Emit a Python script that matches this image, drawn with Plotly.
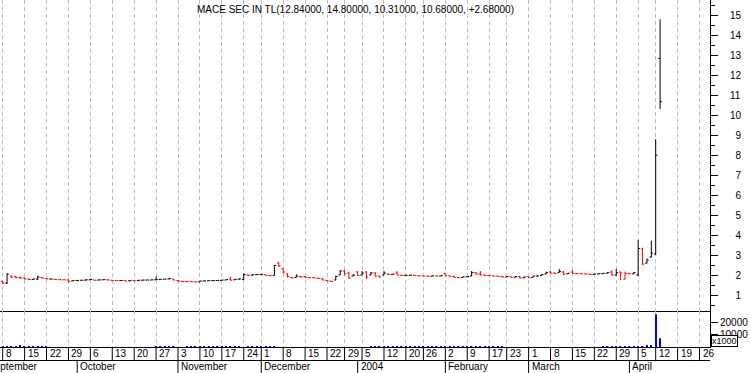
import pandas as pd
import plotly.graph_objects as go

# ---------------- data ----------------
TITLE = "MACE SEC IN TL(12.84000, 14.80000, 10.31000, 10.68000, +2.68000)"
HOLIDAYS = ["2003-09-01", "2003-11-27", "2003-12-25", "2004-01-01",
            "2004-01-19", "2004-02-16", "2004-04-09"]
CAL_START = "2003-09-01"
FIRST_DAY = "2003-09-08"
CAL_END = "2004-04-30"

opens = [1.68, 1.60, 1.95, 1.92, 1.88, 1.85, 1.80, 1.78, 1.80, 1.88,
         1.83, 1.80, 1.79, 1.77, 1.76, 1.75, 1.70, 1.73, 1.74, 1.74,
         1.76, 1.75, 1.75, 1.76, 1.76, 1.74, 1.73, 1.72, 1.72, 1.71,
         1.72, 1.72, 1.74, 1.75, 1.75, 1.76, 1.78, 1.79, 1.80, 1.80,
         1.72, 1.69, 1.68, 1.67, 1.66, 1.66, 1.70, 1.71, 1.72, 1.73,
         1.73, 1.75, 1.80, 1.76, 1.79, 1.78, 2.00, 1.99, 2.02, 2.03,
         2.02, 1.98, 1.98, 2.60, 2.32, 2.06, 1.88, 1.88, 1.93, 1.92,
         1.88, 1.87, 1.85, 1.82, 1.74, 1.70, 1.75, 2.00, 2.20, 2.10,
         1.95, 2.15, 2.00, 2.15, 2.00, 2.10, 1.95, 2.00, 2.05, 2.03,
         2.10, 2.00, 1.98, 1.99, 1.99, 1.97, 1.96, 1.95, 1.94, 1.96,
         1.95, 2.08, 1.96, 1.93, 1.88, 1.88, 1.91, 1.95, 2.12, 2.05,
         2.00, 1.98, 1.96, 1.95, 1.93, 1.90, 1.92, 1.89, 1.93, 1.86,
         1.92, 1.88, 1.95, 1.97, 2.05, 2.15, 2.10, 2.12, 2.15, 2.06,
         2.15, 2.08, 2.07, 2.06, 2.05, 2.03, 2.05, 2.07, 2.09, 2.15,
         2.00, 2.15, 1.80, 2.08, 2.06, 2.00, 3.30, 2.60, 2.90, 3.05,
         12.84]
highs = [1.70, 2.10, 1.97, 1.95, 1.92, 1.88, 1.82, 1.82, 1.97, 1.88,
         1.85, 1.81, 1.80, 1.78, 1.77, 1.80, 1.73, 1.74, 1.75, 1.80,
         1.82, 1.76, 1.77, 1.78, 1.77, 1.75, 1.74, 1.74, 1.73, 1.73,
         1.73, 1.75, 1.76, 1.76, 1.77, 1.92, 1.80, 1.80, 1.85, 1.80,
         1.73, 1.70, 1.69, 1.68, 1.67, 1.70, 1.72, 1.72, 1.73, 1.74,
         1.76, 1.78, 1.92, 1.80, 1.82, 2.08, 2.02, 2.04, 2.04, 2.05,
         2.02, 1.99, 2.50, 2.65, 2.33, 2.08, 1.90, 2.03, 1.95, 1.95,
         1.90, 1.88, 1.86, 1.83, 1.75, 1.70, 1.97, 2.25, 2.25, 2.17,
         2.05, 2.20, 2.20, 2.20, 2.15, 2.15, 1.97, 2.20, 2.08, 2.06,
         2.20, 2.02, 2.00, 2.00, 2.00, 1.98, 1.97, 1.96, 1.97, 1.97,
         1.98, 2.10, 1.97, 1.97, 1.90, 1.92, 1.93, 2.20, 2.15, 2.20,
         2.02, 1.99, 1.97, 1.96, 1.94, 1.93, 1.92, 1.95, 1.95, 1.92,
         1.93, 1.96, 1.97, 2.05, 2.17, 2.20, 2.12, 2.30, 2.20, 2.10,
         2.25, 2.10, 2.08, 2.07, 2.06, 2.06, 2.08, 2.10, 2.14, 2.25,
         2.30, 2.17, 2.17, 2.10, 2.15, 3.75, 3.37, 2.83, 3.72, 8.80,
         14.80]
lows = [1.55, 1.55, 1.85, 1.83, 1.80, 1.78, 1.75, 1.78, 1.75, 1.82,
        1.80, 1.79, 1.77, 1.76, 1.75, 1.62, 1.70, 1.72, 1.73, 1.74,
        1.75, 1.72, 1.74, 1.76, 1.74, 1.72, 1.71, 1.72, 1.69, 1.70,
        1.70, 1.72, 1.74, 1.75, 1.75, 1.76, 1.78, 1.79, 1.80, 1.74,
        1.68, 1.67, 1.66, 1.66, 1.65, 1.66, 1.70, 1.71, 1.72, 1.72,
        1.73, 1.75, 1.72, 1.76, 1.78, 1.75, 1.97, 1.99, 2.01, 2.02,
        1.97, 1.96, 1.98, 2.40, 2.08, 1.87, 1.84, 1.88, 1.88, 1.86,
        1.86, 1.84, 1.82, 1.74, 1.69, 1.66, 1.75, 2.00, 2.00, 1.80,
        1.95, 1.97, 2.00, 1.80, 2.00, 1.92, 1.88, 2.00, 2.00, 2.02,
        2.00, 1.97, 1.96, 1.98, 1.96, 1.95, 1.94, 1.93, 1.94, 1.94,
        1.95, 1.95, 1.93, 1.87, 1.86, 1.88, 1.90, 1.95, 2.02, 1.98,
        1.97, 1.95, 1.94, 1.92, 1.88, 1.90, 1.88, 1.89, 1.83, 1.86,
        1.84, 1.88, 1.94, 1.97, 2.05, 2.08, 2.06, 2.12, 2.00, 2.06,
        2.07, 2.05, 2.05, 2.04, 2.02, 2.03, 2.05, 2.07, 2.09, 1.97,
        1.97, 1.75, 1.78, 2.05, 2.06, 1.95, 2.50, 2.58, 2.88, 3.02,
        10.31]
closes = [1.60, 2.05, 1.90, 1.88, 1.85, 1.80, 1.78, 1.80, 1.90, 1.85,
          1.80, 1.80, 1.78, 1.77, 1.76, 1.68, 1.72, 1.73, 1.74, 1.76,
          1.78, 1.74, 1.76, 1.77, 1.75, 1.73, 1.72, 1.73, 1.70, 1.72,
          1.71, 1.74, 1.75, 1.75, 1.76, 1.78, 1.79, 1.80, 1.82, 1.75,
          1.70, 1.68, 1.67, 1.66, 1.65, 1.70, 1.71, 1.72, 1.73, 1.73,
          1.75, 1.77, 1.75, 1.79, 1.81, 2.02, 1.98, 2.02, 2.03, 2.04,
          1.98, 1.97, 2.48, 2.45, 2.15, 1.92, 1.85, 1.95, 1.90, 1.88,
          1.87, 1.85, 1.83, 1.75, 1.70, 1.68, 1.93, 2.20, 2.05, 1.85,
          2.00, 1.98, 2.10, 1.90, 2.10, 1.95, 1.90, 2.10, 2.02, 2.05,
          2.00, 1.98, 1.99, 2.00, 1.97, 1.96, 1.95, 1.94, 1.96, 1.95,
          1.97, 1.96, 1.94, 1.88, 1.87, 1.91, 1.92, 2.12, 2.05, 2.00,
          1.98, 1.96, 1.95, 1.93, 1.90, 1.92, 1.89, 1.92, 1.86, 1.90,
          1.87, 1.95, 1.96, 2.02, 2.12, 2.10, 2.08, 2.18, 2.05, 2.09,
          2.08, 2.07, 2.06, 2.05, 2.03, 2.05, 2.07, 2.09, 2.12, 2.00,
          2.12, 2.10, 2.08, 2.06, 2.12, 3.33, 2.55, 2.75, 3.10, 8.00,
          10.68]
volumes = [800, 600, 700, 500, 900, 600, 700, 500, 800, 600,
           500, 0, 0, 0, 0, 0, 0, 0, 0, 0,
           0, 0, 0, 0, 0, 0, 0, 0, 0, 0,
           0, 0, 0, 0, 0, 500, 600, 500, 700, 500,
           0, 0, 500, 600, 500, 700, 600, 500, 600, 500,
           700, 600, 500, 600, 500, 0, 600, 500, 700, 600,
           500, 600, 700, 0, 0, 0, 0, 0, 0, 0,
           0, 0, 0, 0, 0, 0, 0, 0, 0, 0,
           0, 0, 0, 0, 600, 500, 700, 600, 500, 800,
           600, 500, 700, 600, 500, 600, 700, 500, 600, 800,
           500, 600, 700, 500, 600, 500, 700, 600, 500, 600,
           700, 500, 600, 500, 700, 0, 0, 0, 0, 0,
           0, 0, 0, 0, 0, 0, 0, 0, 0, 0,
           0, 0, 0, 0, 0, 0, 0, 600, 500, 700,
           600, 500, 600, 700, 500, 800, 700, 900, 1600, 26200,
           7000]

PRICE_TICKS = list(range(1, 16))
VOLUME_TICKS = [10000, 20000]
VOLUME_TICK_LABELS = ["10000", "20000"]
VOLUME_UNIT = "x1000"
MONTH_NAMES = {9: "September", 10: "October", 11: "November", 12: "December",
               1: "2004", 2: "February", 3: "March", 4: "April"}

# ---------------- trading calendar ----------------
cal = [d for d in pd.bdate_range(CAL_START, CAL_END) if d.strftime("%Y-%m-%d") not in HOLIDAYS]
origin = cal.index(pd.Timestamp(FIRST_DAY))
pos = {d: i - origin for i, d in enumerate(cal)}
dates = cal[origin:origin + len(closes)]
xs = [pos[d] for d in dates]

week_starts, month_starts = [], []
prev = None
for d in cal:
    if prev is None or d.isocalendar()[1] != prev.isocalendar()[1]:
        week_starts.append(d)
    if prev is None or d.month != prev.month:
        month_starts.append(d)
    prev = d
week_starts = [d for d in week_starts if pos[d] >= 0]

X_RANGE = [-0.616, 161.39]

up = [closes[i] >= (closes[i - 1] if i > 0 else opens[i]) for i in range(len(closes))]

FONT = "Liberation Sans, Arial, sans-serif"
fig = go.Figure()
for flag, color in ((True, "#000000"), (False, "#ff0000")):
    idx = [i for i in range(len(closes)) if up[i] == flag]
    fig.add_trace(go.Ohlc(
        x=[xs[i] for i in idx], open=[opens[i] for i in idx], high=[highs[i] for i in idx],
        low=[lows[i] for i in idx], close=[closes[i] for i in idx],
        increasing=dict(line=dict(color=color, width=1)),
        decreasing=dict(line=dict(color=color, width=1)),
        tickwidth=0.4, xaxis="x", yaxis="y", hoverinfo="skip"))
fig.add_trace(go.Bar(x=xs, y=volumes, width=0.3, marker=dict(color="#0000ff", line=dict(width=0)),
                     xaxis="x2", yaxis="y2", hoverinfo="skip"))

H_PLOT = 347.0
split = 36 / H_PLOT
grid = dict(showgrid=True, gridcolor="#c0c0c0", gridwidth=1, griddash="4px,3px",
            tickmode="array", tickvals=[pos[d] for d in week_starts],
            showticklabels=False, ticks="", range=X_RANGE, zeroline=False, automargin=False,
            showline=True, linecolor="#000000", linewidth=1)

shapes, annotations = [], []
row1 = -13.5 / H_PLOT
row2 = -26 / H_PLOT
shapes.append(dict(type="line", xref="paper", yref="paper", x0=0, x1=1, y0=row1, y1=row1,
                   line=dict(color="#000000", width=1)))
for d in week_starts:
    shapes.append(dict(type="line", xref="x2", yref="paper", x0=pos[d], x1=pos[d], y0=0, y1=row1,
                       line=dict(color="#000000", width=1)))
    annotations.append(dict(xref="x2", yref="paper", x=pos[d], y=-7 / H_PLOT, text=str(d.day),
                            xanchor="left", yanchor="middle", xshift=1, showarrow=False,
                            font=dict(family=FONT, size=10, color="#000000")))
span = X_RANGE[1] - X_RANGE[0]
for d in month_starts:
    px = (pos[d] - X_RANGE[0]) / span
    if px <= 1:
        shapes.append(dict(type="line", xref="paper", yref="paper", x0=px, x1=px, y0=row1, y1=row2,
                           line=dict(color="#000000", width=1)))
        annotations.append(dict(xref="paper", yref="paper", x=px, y=(row1 + row2) / 2,
                                text=MONTH_NAMES[d.month], xanchor="left", yanchor="middle",
                                xshift=1, showarrow=False,
                                font=dict(family=FONT, size=10, color="#000000")))
annotations.append(dict(xref="paper", yref="paper", x=0.5, y=1, yanchor="top", xanchor="center",
                        yshift=-2, text=TITLE, showarrow=False,
                        font=dict(family=FONT, size=10, color="#000000")))
annotations.append(dict(xref="paper", yref="paper", x=1, y=0, xanchor="left", yanchor="bottom",
                        xshift=1, text=VOLUME_UNIT, showarrow=False, bgcolor="#ffffff",
                        bordercolor="#000000", borderwidth=1, borderpad=0,
                        font=dict(family=FONT, size=9, color="#000000")))

fig.update_layout(
    template="none",
    width=751, height=373, margin=dict(l=0, r=41, t=0, b=26, autoexpand=False),
    paper_bgcolor="#ffffff", plot_bgcolor="#ffffff", showlegend=False,
    xaxis=dict(domain=[0, 1], anchor="y", rangeslider=dict(visible=False), **grid),
    xaxis2=dict(domain=[0, 1], anchor="y2", matches="x", **grid),
    yaxis=dict(domain=[split, 1], anchor="x", side="right", range=[0.2, 15.77], automargin=False,
               tickmode="array", tickvals=PRICE_TICKS,
               ticktext=[("\u2007" + str(v)) if v < 10 else str(v) for v in PRICE_TICKS],
               ticks="outside", ticklen=7, tickcolor="#000000", ticklabelstandoff=10,
               minor=dict(dtick=0.5, ticks="outside", ticklen=4, tickcolor="#000000", showgrid=False),
               showline=True, linecolor="#000000", linewidth=1, showgrid=False, zeroline=False,
               tickfont=dict(family=FONT, size=10, color="#000000")),
    yaxis2=dict(domain=[0, split], anchor="x2", side="right", range=[0, 28800], automargin=False,
                tickmode="array", tickvals=VOLUME_TICKS, ticktext=VOLUME_TICK_LABELS,
                ticks="outside", ticklen=7, tickcolor="#000000", ticklabelstandoff=0,
                showline=True, linecolor="#000000", linewidth=1, showgrid=False, zeroline=False,
                tickfont=dict(family=FONT, size=10, color="#000000")),
    shapes=shapes, annotations=annotations,
)
fig.write_html("out.html", config={"displayModeBar": False},
               post_script="document.body.style.margin='0';document.body.style.overflow='hidden';")
